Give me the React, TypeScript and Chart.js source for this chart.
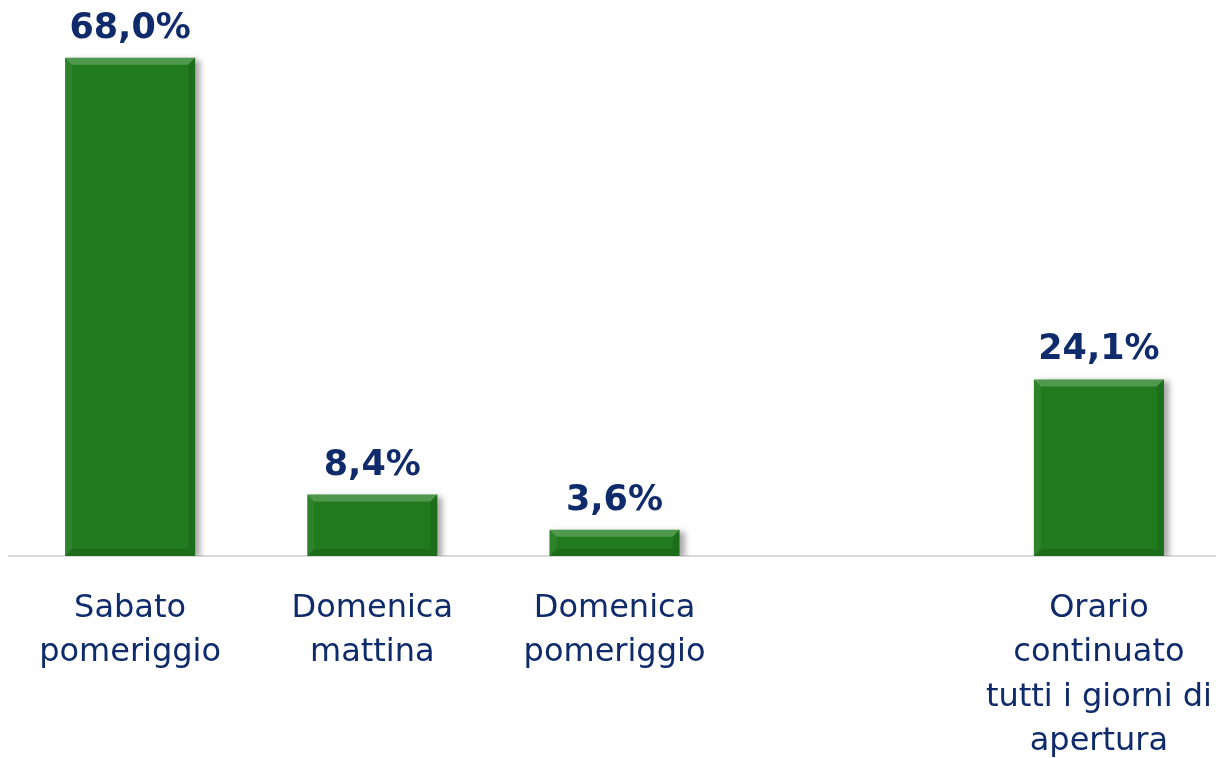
import { useEffect, useRef } from 'react';
import { Chart, registerables } from 'chart.js';

Chart.register(...registerables);

const categories: string[][] = [
  ['Sabato', 'pomeriggio'],
  ['Domenica', 'mattina'],
  ['Domenica', 'pomeriggio'],
  [''],
  ['Orario', 'continuato', 'tutti i giorni di', 'apertura'],
];
const values: (number | null)[] = [68.0, 8.4, 3.6, null, 24.1];
const valueLabels: string[] = ['68,0%', '8,4%', '3,6%', '', '24,1%'];

const TEXT_COLOR = '#0f2b6b';
const BAR_COLOR = '#217b1e';

const shadowPlugin = {
  id: 'barShadow',
  beforeDatasetDraw(chart: any) {
    const ctx = chart.ctx;
    ctx.save();
    ctx.shadowColor = 'rgba(0,0,0,0.35)';
    ctx.shadowBlur = 6;
    ctx.shadowOffsetX = 5;
    ctx.shadowOffsetY = 2;
  },
  afterDatasetDraw(chart: any) {
    const ctx = chart.ctx;
    ctx.restore();
    const meta = chart.getDatasetMeta(0);
    meta.data.forEach((bar: any, i: number) => {
      if (values[i] == null) return;
      const { x, y, base, width } = bar.getProps(['x', 'y', 'base', 'width'], true);
      const l = x - width / 2;
      const r = x + width / 2;
      const t = y;
      const b = base;
      const bv = Math.min(7, (b - t) / 2);
      const poly = (pts: number[][], color: string) => {
        ctx.beginPath();
        ctx.moveTo(pts[0][0], pts[0][1]);
        for (let k = 1; k < pts.length; k++) ctx.lineTo(pts[k][0], pts[k][1]);
        ctx.closePath();
        ctx.fillStyle = color;
        ctx.fill();
      };
      ctx.save();
      poly([[l, t], [r, t], [r - bv, t + bv], [l + bv, t + bv]], 'rgba(255,255,255,0.22)');
      poly([[l, t], [l + bv, t + bv], [l + bv, b - bv], [l, b]], 'rgba(255,255,255,0.06)');
      poly([[r, t], [r, b], [r - bv, b - bv], [r - bv, t + bv]], 'rgba(0,0,0,0.10)');
      poly([[l, b], [l + bv, b - bv], [r - bv, b - bv], [r, b]], 'rgba(0,0,0,0.12)');
      ctx.restore();
    });
  },
};

const valueLabelPlugin = {
  id: 'valueLabels',
  afterDatasetsDraw(chart: any) {
    const ctx = chart.ctx;
    const meta = chart.getDatasetMeta(0);
    ctx.save();
    ctx.font = 'bold 35px "DejaVu Sans"';
    ctx.fillStyle = TEXT_COLOR;
    ctx.textAlign = 'center';
    ctx.textBaseline = 'alphabetic';
    meta.data.forEach((bar: any, i: number) => {
      if (values[i] == null) return;
      ctx.fillText(valueLabels[i], bar.x, bar.y - 20);
    });
    ctx.restore();
  },
};

export default function App() {
  const ref = useRef<HTMLCanvasElement | null>(null);

  useEffect(() => {
    if (!ref.current) return;
    const chart = new Chart(ref.current, {
      type: 'bar',
      data: {
        labels: categories,
        datasets: [
          {
            data: values,
            backgroundColor: BAR_COLOR,
            borderWidth: 0,
            barPercentage: 0.537,
            categoryPercentage: 1,
          },
        ],
      },
      options: {
        animation: false,
        responsive: false,
        devicePixelRatio: 1,
        layout: { padding: { left: 9, right: 11, top: 8, bottom: 0 } },
        plugins: {
          legend: { display: false },
          tooltip: { enabled: false },
        },
        scales: {
          x: {
            grid: { display: false, drawTicks: false },
            border: { display: true, color: '#d9d9d9', width: 2 },
            ticks: {
              color: TEXT_COLOR,
              font: { family: '"DejaVu Sans"', size: 32, lineHeight: 1.39 },
              padding: 30,
              maxRotation: 0,
              minRotation: 0,
              autoSkip: false,
            },
          },
          y: {
            display: false,
            min: 0,
            max: 74.8,
          },
        },
      },
      plugins: [shadowPlugin, valueLabelPlugin],
    });
    return () => chart.destroy();
  }, []);

  return (
    <div
      style={{
        position: 'absolute',
        left: 0,
        top: 0,
        width: 1216,
        height: 758,
        overflow: 'hidden',
        background: '#ffffff',
      }}
    >
      <canvas ref={ref} width={1243} height={794} style={{ display: 'block' }} />
    </div>
  );
}
